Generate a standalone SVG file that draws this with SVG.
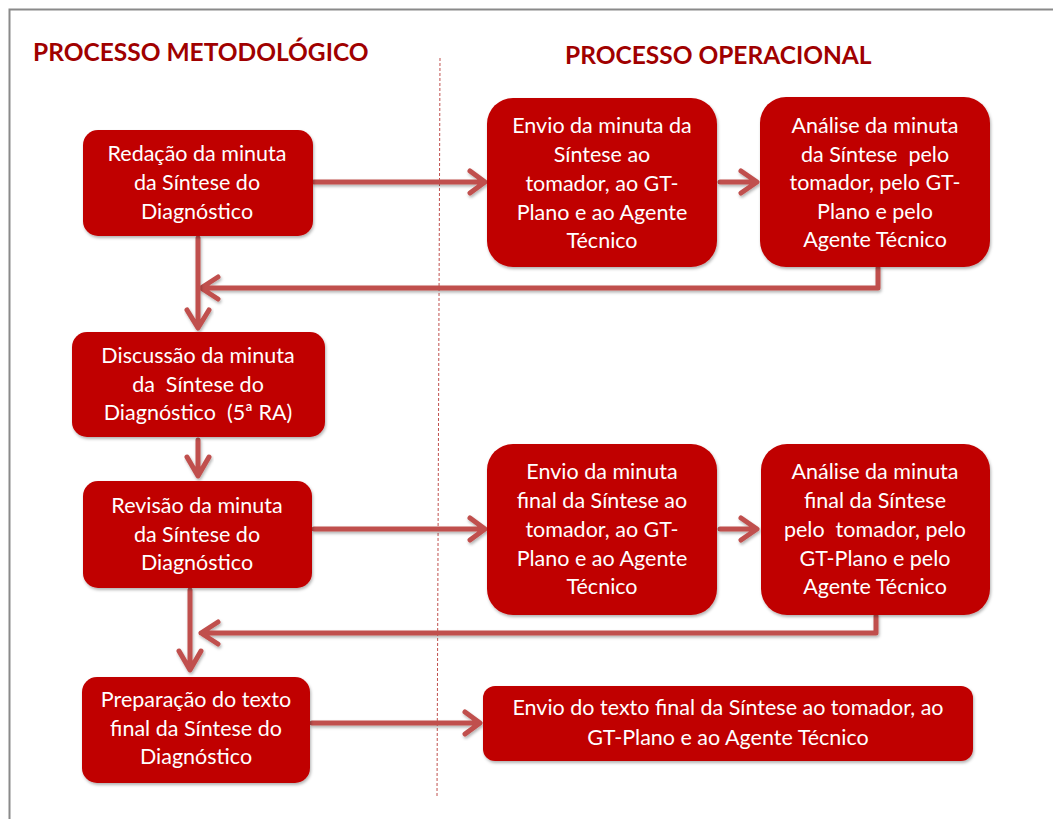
<svg xmlns="http://www.w3.org/2000/svg" width="1053" height="819" viewBox="0 0 1053 819">
<defs>
<filter id="sh" x="-10%" y="-10%" width="130%" height="140%">
<feDropShadow dx="1" dy="2" stdDeviation="1.5" flood-color="#000" flood-opacity="0.3"/>
</filter>
<style>
.box{fill:#c00000;filter:url(#sh)}
.t{font-family:Lato,"Liberation Sans",sans-serif;font-size:21.5px;fill:#fff;text-anchor:middle;white-space:pre}
.h{font-family:Lato,"Liberation Sans",sans-serif;font-size:24.5px;font-weight:bold;fill:#a00000}
.c{fill:none;stroke:#c0504d;stroke-width:5;stroke-linecap:round;stroke-linejoin:round;filter:url(#sh)}
</style>
</defs>
<rect x="0" y="0" width="1053" height="819" fill="#fff"/>
<path d="M9.5,819 V9.5 H1053" fill="none" stroke="#8a8a8a" stroke-width="2"/>
<text class="h" x="33" y="61">PROCESSO METODOLÓGICO</text>
<text class="h" x="565" y="64">PROCESSO OPERACIONAL</text>
<line x1="440" y1="58" x2="437" y2="797" stroke="#c0504d" stroke-width="1" stroke-dasharray="3,2"/>

<g id="connectors">
<path class="c" d="M314,182 H484 M470,171 L485,182 L470,193"/>
<path class="c" d="M720,182 H756 M741,171 L757,182 L741,193"/>
<path class="c" d="M878,268 V288 H201 M218,277 L201,288 L218,299"/>
<path class="c" d="M198,238 V327 M187,310 L198,328 L209,310"/>
<path class="c" d="M198,440 V475 M187,457 L198,476 L209,457"/>
<path class="c" d="M314,529 H484 M470,518 L485,529 L470,540"/>
<path class="c" d="M720,529 H756 M741,518 L757,529 L741,540"/>
<path class="c" d="M876,616 V633 H201 M218,622 L201,633 L218,644"/>
<path class="c" d="M190,590 V669 M179,651 L190,670 L201,651"/>
<path class="c" d="M312,723 H479 M465,712 L480,723 L465,734"/>
</g>

<g id="n1">
<rect class="box" x="83" y="130" width="230" height="106" rx="15"/>
<text class="t"><tspan x="197" y="161">Redação da minuta</tspan><tspan x="197" y="190">da Síntese do</tspan><tspan x="197" y="219">Diagnóstico</tspan></text>
</g>
<g id="n2">
<rect class="box" x="487" y="98" width="230" height="169" rx="26"/>
<text class="t"><tspan x="602" y="133">Envio da minuta da</tspan><tspan x="602" y="162">Síntese ao</tspan><tspan x="602" y="191">tomador, ao GT-</tspan><tspan x="602" y="220">Plano e ao Agente</tspan><tspan x="602" y="248">Técnico</tspan></text>
</g>
<g id="n3">
<rect class="box" x="760" y="97" width="230" height="170" rx="26"/>
<text class="t" xml:space="preserve"><tspan x="875" y="133">Análise da minuta</tspan><tspan x="875" y="162">da Síntese  pelo</tspan><tspan x="875" y="190">tomador, pelo GT-</tspan><tspan x="875" y="219">Plano e pelo</tspan><tspan x="875" y="247">Agente Técnico</tspan></text>
</g>
<g id="n4">
<rect class="box" x="72" y="332" width="253" height="105" rx="15"/>
<text class="t" xml:space="preserve"><tspan x="198" y="363">Discussão da minuta</tspan><tspan x="198" y="392">da  Síntese do</tspan><tspan x="198" y="420">Diagnóstico  (5ª RA)</tspan></text>
</g>
<g id="n5">
<rect class="box" x="83" y="481" width="229" height="107" rx="15"/>
<text class="t"><tspan x="197" y="513">Revisão da minuta</tspan><tspan x="197" y="542">da Síntese do</tspan><tspan x="197" y="570">Diagnóstico</tspan></text>
</g>
<g id="n6">
<rect class="box" x="487" y="444" width="230" height="171" rx="26"/>
<text class="t"><tspan x="602" y="479">Envio da minuta</tspan><tspan x="602" y="508">final da Síntese ao</tspan><tspan x="602" y="537">tomador, ao GT-</tspan><tspan x="602" y="566">Plano e ao Agente</tspan><tspan x="602" y="594">Técnico</tspan></text>
</g>
<g id="n7">
<rect class="box" x="761" y="444" width="229" height="171" rx="26"/>
<text class="t" xml:space="preserve"><tspan x="875" y="479">Análise da minuta</tspan><tspan x="875" y="508">final da Síntese</tspan><tspan x="875" y="537">pelo  tomador, pelo</tspan><tspan x="875" y="566">GT-Plano e pelo</tspan><tspan x="875" y="594">Agente Técnico</tspan></text>
</g>
<g id="n8">
<rect class="box" x="82" y="677" width="228" height="106" rx="15"/>
<text class="t"><tspan x="196" y="707">Preparação do texto</tspan><tspan x="196" y="736">final da Síntese do</tspan><tspan x="196" y="764">Diagnóstico</tspan></text>
</g>
<g id="n9">
<rect class="box" x="483" y="686" width="490" height="75" rx="12"/>
<text class="t"><tspan x="728" y="715">Envio do texto final da Síntese ao tomador, ao</tspan><tspan x="728" y="745">GT-Plano e ao Agente Técnico</tspan></text>
</g>
</svg>
